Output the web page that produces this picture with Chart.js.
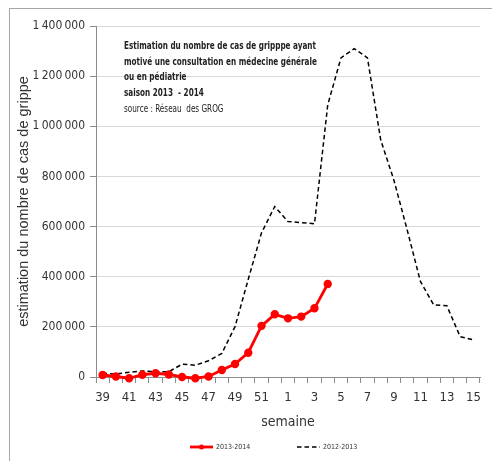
<!DOCTYPE html>
<html>
<head>
<meta charset="utf-8">
<script src="https://cdn.jsdelivr.net/npm/chart.js@4.4.1/dist/chart.umd.min.js"></script>
<style>
  html, body { margin: 0; padding: 0; background: #fff; }
  body { width: 492px; height: 461px; overflow: hidden; position: relative; }
  #cadre { position: absolute; left: 9px; top: 8px; width: 482px; height: 452px;
           border-left: 1px solid #a6a6a6; border-top: 1px solid #a6a6a6; }
</style>
</head>
<body>
<div id="cadre"><canvas id="grippeChart" width="482" height="452"></canvas></div>
<script>
// semaines 39 -> 52 puis 1 -> 15
const semaines = ['39','40','41','42','43','44','45','46','47','48','49','50','51','52',
                  '1','2','3','4','5','6','7','8','9','10','11','12','13','14','15'];

// saison 2013-2014 (s'arrete en semaine 4)
const saison1314 = [8000, 2000, -5000, 9000, 15000, 10000, 0, -5000, 2000, 28000, 52000, 97000,
                    204000, 250000, 234000, 241000, 274000, 371000];

// saison 2012-2013
const saison1213 = [15000, 12000, 19000, 24000, 21000, 21000, 51000, 47000, 65000, 94000, 201000,
                    390000, 575000, 680000, 620000, 616000, 611000, 1085000, 1273000, 1310000,
                    1273000, 946000, 785000, 587000, 381000, 288000, 284000, 161000, 148000];

const legendes = ['2013-2014', '2012-2013'];

const encadre = [
    ['Estimation du nombre de cas de gripppe ayant', true],
    ['motivé une consultation en médecine générale', true],
    ['ou en pédiatrie', true],
    ['saison 2013  - 2014', true],
    ['source : Réseau  des GROG', false]
];

const policeEtroite = '"DejaVu Sans Condensed", "Liberation Sans", sans-serif';

// texte en haut a gauche de la zone du graphique
const pluginEncadre = {
    id: 'encadre',
    afterDraw(chart) {
        const ctx = chart.ctx;
        ctx.save();
        ctx.fillStyle = '#222';
        ctx.textBaseline = 'middle';
        ctx.font = 'bold 11px ' + policeEtroite;
        const sx = 192 / ctx.measureText(encadre[0][0]).width;
        ctx.translate(114, 0);
        ctx.scale(sx, 1);
        encadre.forEach((l, i) => {
            ctx.font = (l[1] ? 'bold ' : '') + '11px ' + policeEtroite;
            ctx.fillText(l[0], 0, 37 + i * 15.8);
        });
        ctx.restore();
    }
};

// legende en bas (trait + marqueur)
const pluginLegende = {
    id: 'legendeBas',
    afterDraw(chart) {
        const ctx = chart.ctx;
        const y = 438;
        const pos = [180, 287];
        ctx.save();
        chart.data.datasets.forEach((ds, i) => {
            const x = pos[i];
            ctx.strokeStyle = ds.borderColor;
            ctx.lineWidth = ds.borderWidth;
            ctx.setLineDash(ds.borderDash || []);
            ctx.beginPath();
            ctx.moveTo(x, y);
            ctx.lineTo(x + 23, y);
            ctx.stroke();
            if (ds.pointRadius > 0) {
                ctx.setLineDash([]);
                ctx.fillStyle = ds.pointBackgroundColor;
                ctx.beginPath();
                ctx.arc(x + 11.5, y, 2.5, 0, Math.PI * 2);
                ctx.fill();
            }
            ctx.fillStyle = '#333';
            ctx.font = '7px ' + policeEtroite;
            ctx.textBaseline = 'middle';
            ctx.fillText(legendes[i], x + 26, y + 0.5);
        });
        ctx.restore();
    }
};

const ctx = document.getElementById('grippeChart').getContext('2d');
const chart = new Chart(ctx, {
    type: 'line',
    data: {
        labels: semaines,
        datasets: [
            {
                label: legendes[0],
                data: saison1314,
                borderColor: '#ff0000',
                backgroundColor: '#ff0000',
                pointBackgroundColor: '#ff0000',
                pointBorderColor: '#ff0000',
                borderWidth: 2.8,
                pointRadius: 2.8,
                tension: 0,
                clip: false
            },
            {
                label: legendes[1],
                data: saison1213,
                borderColor: '#000000',
                backgroundColor: '#000000',
                borderWidth: 1.5,
                borderDash: [4.5, 3],
                pointRadius: 0,
                tension: 0
            }
        ]
    },
    options: {
        responsive: false,
        animation: false,
        layout: { padding: { left: 0, right: 12, top: 17, bottom: 28 } },
        plugins: { legend: { display: false }, tooltip: { enabled: false } },
        scales: {
            x: {
                offset: true,
                afterFit: s => { s.height = 56; },
                grid: { offset: true, drawOnChartArea: false, tickLength: 6, color: '#8c8c8c' },
                border: { color: '#8c8c8c' },
                ticks: {
                    autoSkip: false, maxRotation: 0, padding: 7,
                    color: '#333', font: { family: policeEtroite, size: 13 },
                    callback: (v, i) => i % 2 === 0 ? semaines[i] : ''
                },
                title: {
                    display: true, text: 'semaine', color: '#333',
                    font: { family: policeEtroite, size: 14 }, padding: { top: 0, bottom: 2 }
                }
            },
            y: {
                min: 0, max: 1400000,
                afterFit: s => { s.width = 86; },
                grid: { color: '#d9d9d9', tickColor: '#8c8c8c', tickLength: 6 },
                border: { color: '#8c8c8c' },
                ticks: {
                    stepSize: 200000, padding: 5, color: '#333',
                    font: { family: policeEtroite, size: 12 },
                    callback: v => v.toLocaleString('fr-FR')
                },
                title: {
                    display: true, text: 'estimation du nombre de cas de grippe', color: '#333',
                    font: { family: '"Liberation Sans", Arial, sans-serif', size: 14.5 },
                    padding: { top: 5, bottom: 0 }
                }
            }
        }
    },
    plugins: [pluginEncadre, pluginLegende]
});
</script>
</body>
</html>
